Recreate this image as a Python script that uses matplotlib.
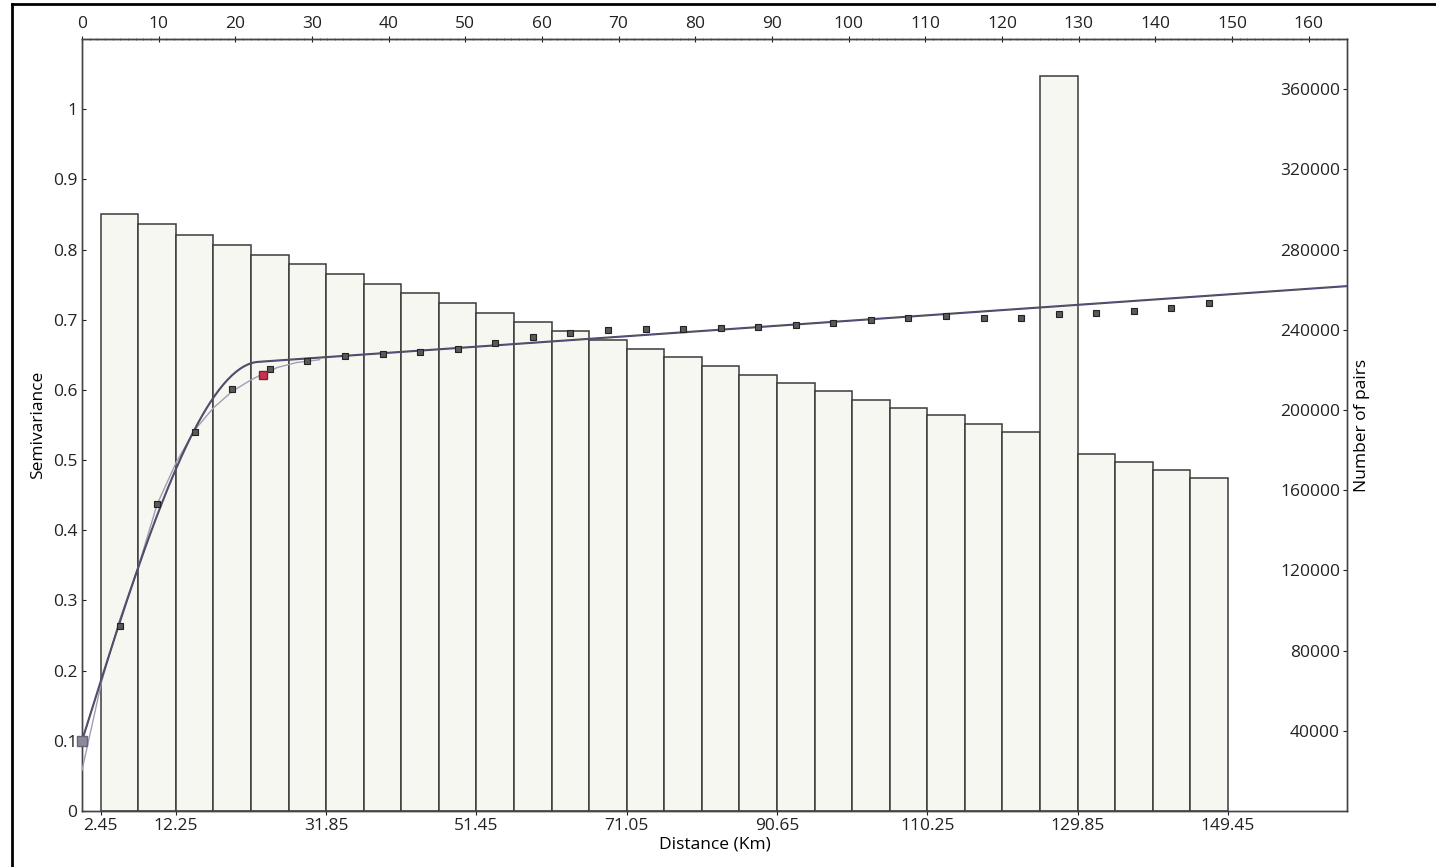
import numpy as np
import matplotlib
matplotlib.use("Agg")
import matplotlib.pyplot as plt
from matplotlib.lines import Line2D
from matplotlib.ticker import MultipleLocator

plt.rcParams['font.family'] = ['Open Sans', 'DejaVu Sans']
FS = 12.5

# number of pairs per lag bin (left edge of each bin, km)
bin_left = [2.45, 7.35, 12.25, 17.15, 22.05, 26.95, 31.85, 36.75, 41.65, 46.55,
            51.45, 56.35, 61.25, 66.15, 71.05, 75.95, 80.85, 85.75, 90.65, 95.55,
            100.45, 105.35, 110.25, 115.15, 120.05, 124.95, 129.85, 134.75, 139.65, 144.55]
pair_counts = [297600, 292600, 287300, 282300, 277100, 272600, 267700, 262800, 258300, 253500,
               248500, 244000, 239400, 235000, 230600, 226300, 221900, 217600, 213400, 209500,
               205100, 201100, 197300, 193000, 189000, 366500, 177900, 173900, 169900, 166200]
bin_width = 4.9

# empirical semivariance
lag_dist = [0, 4.9, 9.8, 14.7, 19.6, 24.5, 29.4, 34.3, 39.2, 44.1, 49.0, 53.9, 58.8, 63.7,
            68.6, 73.5, 78.4, 83.3, 88.2, 93.1, 98.0, 102.9, 107.8, 112.7, 117.6, 122.5,
            127.4, 132.3, 137.2, 142.1, 147.0]
semivar = [0.0996, 0.2632, 0.4377, 0.5405, 0.602, 0.6297, 0.641, 0.6486, 0.651, 0.6543,
           0.6577, 0.6662, 0.6757, 0.6804, 0.685, 0.6866, 0.6875, 0.688, 0.6903, 0.6927,
           0.696, 0.6994, 0.7031, 0.7046, 0.702, 0.703, 0.7077, 0.7098, 0.7122, 0.7174, 0.7236]
sel_dist, sel_val = 23.6, 0.6216

# fitted model: nugget + spherical + linear
nugget = 0.10
psill = 0.5225
model_range = 23.0
slope = 0.00076

# second (lighter) curve
light_dist = [0, 2.6, 4.9, 7.4, 9.8, 12.3, 14.7, 17.2, 19.6, 22.0, 23.6, 25.5, 28.0, 31.0]
light_val = [0.058, 0.186, 0.272, 0.350, 0.437, 0.497, 0.543, 0.575, 0.598, 0.614, 0.623,
             0.632, 0.639, 0.643]

bottom_ticks = [2.45, 12.25, 31.85, 51.45, 71.05, 90.65, 110.25, 129.85, 149.45]

fig = plt.figure(figsize=(14.36, 8.67), dpi=100)
ax = fig.add_axes([82/1436, 1-811/867, (1347-82)/1436, (811-39)/867])
ax2 = ax.twinx()
ax.set_zorder(ax2.get_zorder() + 1)
ax.patch.set_visible(False)

ax2.bar(bin_left, pair_counts, width=bin_width, align='edge',
        facecolor='#f7f7f2', edgecolor='#3a3a3a', linewidth=1.1)
ax2.set_ylim(0, 385000)
ax2.set_yticks(range(40000, 360001, 40000))
ax2.tick_params(axis='y', direction='in', length=3, pad=-5, labelsize=FS, colors='#222222')
for lbl in ax2.get_yticklabels():
    lbl.set_horizontalalignment('right')
ax2.set_ylabel('Number of pairs', labelpad=5, fontsize=FS)

h = np.linspace(0, 165, 600)
r = np.minimum(h / model_range, 1.0)
gamma = nugget + psill * (1.5 * r - 0.5 * r ** 3) + slope * h
ax.plot(light_dist, light_val, color='#a49cb4', lw=1.0, zorder=3)
ax.plot(h, gamma, color='#4a4a55', lw=1.5, zorder=4)
ax.plot(h, gamma, color='#5a5ab8', lw=0.6, alpha=0.5, zorder=4)

ax.plot(lag_dist[1:], semivar[1:], ls='none', marker='s', markersize=5,
        markerfacecolor='#5a5a5a', markeredgecolor='#222222', markeredgewidth=0.8, zorder=5)
ax.plot(lag_dist[0], semivar[0], ls='none', marker='s', markersize=7,
        markerfacecolor='#8c8a9a', markeredgecolor='#666677', zorder=5, clip_on=False)
ax.plot(sel_dist, sel_val, ls='none', marker='s', markersize=6,
        markerfacecolor='#c8324f', markeredgecolor='#7a2030', zorder=6)

ax.set_xlim(0, 165)
ax.set_ylim(0, 1.1)
ax.set_yticks(np.arange(0, 1.01, 0.1))
ax.set_yticklabels(['0', '0.1', '0.2', '0.3', '0.4', '0.5', '0.6', '0.7', '0.8', '0.9', '1'])
ax.tick_params(axis='y', direction='in', length=3, labelsize=FS, colors='#222222')
ax.set_ylabel('Semivariance', fontsize=FS, labelpad=5)

ax.set_xticks(bottom_ticks)
ax.set_xticklabels(['%.2f' % t for t in bottom_ticks])
ax.tick_params(axis='x', direction='out', length=3, labelsize=FS, colors='#222222', pad=2)
ax.set_xlabel('Distance (Km)', fontsize=FS, labelpad=2)

top = ax.secondary_xaxis('top')
top.set_xticks(range(0, 161, 10))
top.xaxis.set_minor_locator(MultipleLocator(1))
top.tick_params(which='major', direction='inout', length=4, labelsize=FS, colors='#222222', pad=3)
top.tick_params(which='minor', direction='inout', length=2, color='#555555')

for a in (ax, ax2):
    for s in a.spines.values():
        s.set_color('#444444')
        s.set_linewidth(1.0)
for s in top.spines.values():
    s.set_color('#444444')

# frame lines of the original image
fig.add_artist(Line2D([12/1436, 12/1436], [0, 1-4/867], color='black', lw=2))
fig.add_artist(Line2D([12/1436, 1], [1-4/867, 1-4/867], color='black', lw=2))

fig.savefig('out.png', dpi=100)
